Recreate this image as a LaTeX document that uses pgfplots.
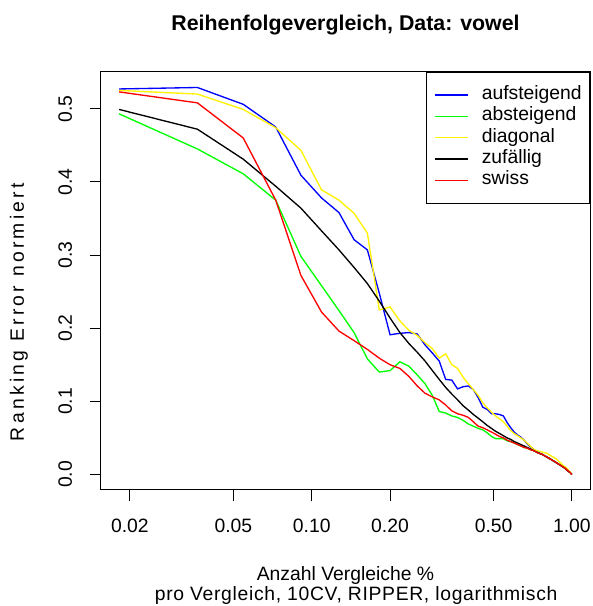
\documentclass[border=0pt]{standalone}
\usepackage{pgfplots}
\pgfplotsset{compat=1.18}
\usepackage{pgfplotstable}
\usepackage{fontspec}
\setmainfont{Liberation Sans}

\pgfplotstableread{
x auf ab diag zuf swiss
0.01818 0.527 0.493 0.525 0.499 0.523
0.03636 0.529 0.445 0.520 0.472 0.508
0.05455 0.506 0.411 0.499 0.431 0.460
0.07273 0.475 0.375 0.474 0.394 0.375
0.09091 0.409 0.298 0.443 0.364 0.272
0.10909 0.378 0.258 0.389 0.333 0.222
0.12727 0.358 0.224 0.375 0.307 0.196
0.14545 0.321 0.194 0.357 0.283 0.183
0.16364 0.307 0.158 0.330 0.261 0.171
0.18182 0.248 0.140 0.225 0.237 0.159
0.2 0.191 0.142 0.229 0.214 0.150
0.21818 0.193 0.154 0.210 0.194 0.145
0.23636 0.194 0.148 0.197 0.179 0.134
0.25455 0.192 0.136 0.190 0.167 0.121
0.27273 0.177 0.124 0.180 0.155 0.111
0.29091 0.166 0.108 0.172 0.142 0.106
0.30909 0.155 0.086 0.159 0.130 0.102
0.32727 0.130 0.084 0.165 0.119 0.095
0.34545 0.129 0.080 0.150 0.110 0.087
0.36364 0.117 0.078 0.145 0.102 0.083
0.38182 0.120 0.074 0.133 0.094 0.081
0.4 0.121 0.069 0.124 0.088 0.078
0.41818 0.116 0.066 0.116 0.082 0.072
0.43636 0.105 0.063 0.108 0.077 0.066
0.45455 0.092 0.061 0.098 0.072 0.064
0.47273 0.089 0.057 0.091 0.067 0.061
0.49091 0.083 0.052 0.085 0.063 0.058
0.50909 0.083 0.049 0.080 0.059 0.055
0.52727 0.082 0.049 0.076 0.056 0.052
0.54545 0.080 0.049 0.072 0.053 0.050
0.56364 0.071 0.046 0.066 0.050 0.047
0.58182 0.064 0.045 0.060 0.048 0.045
0.6 0.058 0.043 0.056 0.045 0.043
0.61818 0.054 0.041 0.053 0.043 0.041
0.63636 0.051 0.039 0.050 0.041 0.039
0.65455 0.047 0.037 0.047 0.039 0.037
0.67273 0.042 0.036 0.043 0.037 0.036
0.69091 0.038 0.034 0.039 0.035 0.034
0.70909 0.035 0.033 0.035 0.033 0.033
0.72727 0.032 0.031 0.033 0.031 0.031
0.74545 0.030 0.029 0.032 0.029 0.029
0.76364 0.028 0.028 0.031 0.028 0.028
0.78182 0.026 0.026 0.030 0.026 0.026
0.8 0.024 0.024 0.029 0.024 0.024
0.81818 0.022 0.022 0.027 0.022 0.022
0.83636 0.020 0.020 0.025 0.020 0.020
0.85455 0.018 0.018 0.023 0.018 0.018
0.87273 0.016 0.016 0.021 0.016 0.016
0.89091 0.014 0.014 0.018 0.014 0.014
0.90909 0.012 0.012 0.015 0.012 0.012
0.92727 0.010 0.010 0.012 0.010 0.010
0.94545 0.008 0.008 0.010 0.008 0.008
0.96364 0.005 0.005 0.007 0.005 0.005
0.98182 0.003 0.003 0.004 0.003 0.003
1 0 0 0 0 0
}\data

\begin{document}
\begin{tikzpicture}
\path[use as bounding box] (0,0) rectangle (444pt,454.5pt);
\begin{axis}[
  at={(75.75pt,87pt)}, anchor=south west,
  scale only axis, width=366.75pt, height=313.5pt,
  xmode=log, xmin=0.015488, xmax=1.1738, ymin=-0.0212, ymax=0.5502,
  xtick={0.02,0.05,0.1,0.2,0.5,1},
  xticklabels={0.02,0.05,0.10,0.20,0.50,1.00},
  minor xtick={},
  ytick={0,0.1,0.2,0.3,0.4,0.5},
  yticklabels={0.0,0.1,0.2,0.3,0.4,0.5},
  tick pos=left, tick align=outside, major tick length=8.5pt,
  tick style={black, line width=0.75pt},
  axis line style={line width=0.75pt},
  ticklabel style={font=\fontsize{14.5}{17}\selectfont},
  yticklabel style={rotate=90, anchor=south},
  xticklabel style={anchor=north},
  xticklabel shift=9.75pt,
  yticklabel shift=9.75pt,
  title={Reihenfolgevergleich, Data: vowel},
  title style={at={(axis description cs:0.5,1.0933)}, anchor=center, font=\fontsize{16}{19}\selectfont\bfseries},
  xlabel={Anzahl Vergleiche \%\\\hspace*{16pt}{\addfontfeature{LetterSpace=3.5}pro Vergleich, 10CV, RIPPER, logarithmisch}},
  xlabel style={at={(axis description cs:0.5,-0.2273)}, anchor=center, align=center, font=\fontsize{14.5}{15}\selectfont},
  ylabel={Ranking Error normiert},
  ylabel style={at={(axis description cs:-0.1677,0.4258)}, anchor=center, font=\fontsize{14.5}{17}\selectfont\addfontfeature{LetterSpace=17}},
  legend cell align=left,
  legend image code/.code={\draw[#1] (0pt,0pt) -- (24.75pt,0pt);},
  legend style={at={(1,1)}, anchor=north east, fill=white,
    font=\fontsize{14.5}{17}\selectfont, inner xsep=6pt, inner ysep=10pt,
    nodes={inner sep=0pt, text height=10.5pt, text depth=3.5pt}, row sep=2pt,
    /tikz/every odd column/.append style={column sep=9.75pt}},
]
\addplot[blue, line width=1pt] table[x=x, y=auf] {\data};
\addlegendentry{aufsteigend}
\addplot[green, line width=1pt] table[x=x, y=ab] {\data};
\addlegendentry{absteigend}
\addplot[yellow, line width=1pt] table[x=x, y=diag] {\data};
\addlegendentry{diagonal}
\addplot[black, line width=1pt] table[x=x, y=zuf] {\data};
\addlegendentry{zufällig}
\addplot[red, line width=1pt] table[x=x, y=swiss] {\data};
\addlegendentry{swiss}
\end{axis}
\end{tikzpicture}
\end{document}
